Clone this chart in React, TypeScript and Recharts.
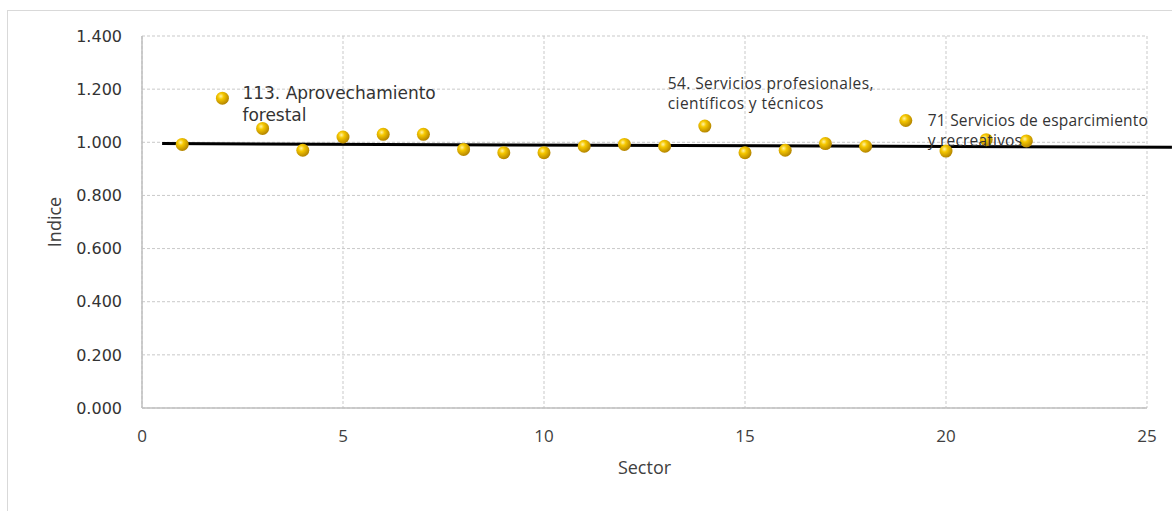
import React from 'react'
import {
  ScatterChart,
  Scatter,
  XAxis,
  YAxis,
  CartesianGrid,
  ReferenceLine,
  ReferenceDot,
  Label,
} from 'recharts'

// sector number vs index value
const sectors = [1, 2, 3, 4, 5, 6, 7, 8, 9, 10, 11, 12, 13, 14, 15, 16, 17, 18, 19, 20, 21, 22]
const indexValues = [
  0.992, 1.166, 1.052, 0.97, 1.02, 1.03, 1.03, 0.973, 0.961, 0.961, 0.985,
  0.992, 0.985, 1.061, 0.961, 0.97, 0.995, 0.985, 1.082, 0.967, 1.01, 1.005,
]

// linear trend line end points (Excel-style, projected past the axis)
const trendX = [0.5, 25.62]
const trendY = [0.995, 0.981]

const xTicks = [0, 5, 10, 15, 20, 25]
const yTicks = [0, 0.2, 0.4, 0.6, 0.8, 1.0, 1.2, 1.4]

// callouts: which sector they belong to, and their text lines
const calloutSector = [2, 14, 19]
const calloutLines = [
  ['113. Aprovechamiento', 'forestal'],
  ['54. Servicios profesionales,', 'científicos y técnicos'],
  ['71 Servicios de esparcimiento', 'y recreativos'],
]

const data = sectors.map((s, i) => ({ x: s, y: indexValues[i] }))

const calloutStyle = [
  { dx: 20, dy: 1, lh: 22, font: 'DejaVu Sans', size: 17, ls: 0 },
  { dx: -37, dy: -37, lh: 20, font: 'Open Sans', size: 15.5, ls: 0.4 },
  { dx: 22, dy: 6, lh: 20, font: 'Open Sans', size: 15.5, ls: 0.2 },
]

const GoldBall = (props: any) => {
  const { cx, cy } = props
  if (cx == null || cy == null) return null
  return <circle cx={cx} cy={cy} r={6.5} fill="url(#goldBall)" />
}

const makeCallout = (idx: number) => (props: any) => {
  const { cx, cy } = props
  const st = calloutStyle[idx]
  return (
    <g>
      {calloutLines[idx].map((line, j) => (
        <text
          key={j}
          x={cx + st.dx}
          y={cy + st.dy + j * st.lh}
          fontFamily={st.font}
          fontSize={st.size}
          letterSpacing={st.ls}
          fill="#333"
        >
          {line}
        </text>
      ))}
    </g>
  )
}

const IndiceLabel = (props: any) => {
  const { viewBox } = props
  const x = viewBox.x + 54
  const y = viewBox.y + viewBox.height / 2
  return (
    <text
      x={x}
      y={y}
      transform={`rotate(-90, ${x}, ${y})`}
      textAnchor="middle"
      dominantBaseline="central"
      fontFamily="Open Sans"
      fontSize={18}
      fill="#404040"
    >
      Indice
    </text>
  )
}

export default function App() {
  return (
    <div
      style={{
        position: 'absolute',
        left: 0,
        top: 0,
        width: 1172,
        height: 511,
        overflow: 'hidden',
        background: '#fff',
      }}
    >
      {/* outer chart frame, runs off the right / bottom edge */}
      <div
        style={{
          position: 'absolute',
          left: 7,
          top: 10,
          width: 1300,
          height: 700,
          border: '1px solid #d9d9d9',
        }}
      />
      <div style={{ position: 'absolute', left: 0, top: 0 }}>
        <ScatterChart
          width={1172}
          height={511}
          margin={{ top: 36, right: 25, left: 0, bottom: 0 }}
        >
          <defs>
            <radialGradient id="goldBall" cx="38%" cy="35%" r="65%">
              <stop offset="0%" stopColor="#fff3a6" />
              <stop offset="35%" stopColor="#f6c800" />
              <stop offset="100%" stopColor="#b58600" />
            </radialGradient>
          </defs>
          <CartesianGrid stroke="#c9c9c9" strokeDasharray="3 2" />
          <XAxis
            type="number"
            dataKey="x"
            domain={[0, 25]}
            ticks={xTicks}
            height={103}
            axisLine={{ stroke: '#bfbfbf', strokeWidth: 1.5 }}
            tickLine={false}
            tickSize={6}
            tickMargin={16}
            tick={{ fontFamily: 'Open Sans', fontSize: 17, fill: '#404040' }}
          >
            <Label
              value="Sector"
              position="insideBottom"
              offset={37}
              style={{ fontFamily: 'Open Sans', fontSize: 18, fill: '#404040' }}
            />
          </XAxis>
          <YAxis
            type="number"
            dataKey="y"
            domain={[0, 1.4]}
            ticks={yTicks}
            width={142}
            axisLine={{ stroke: '#bfbfbf', strokeWidth: 1.5 }}
            tickLine={false}
            tickSize={6}
            tickMargin={14}
            tickFormatter={(v: number) => v.toFixed(3)}
            tick={{ fontFamily: 'DejaVu Sans', fontSize: 16, fill: '#333' }}
          >
            <Label content={IndiceLabel} />
          </YAxis>
          <Scatter data={data} shape={GoldBall} isAnimationActive={false} />
          <ReferenceLine
            segment={[
              { x: trendX[0], y: trendY[0] },
              { x: trendX[1], y: trendY[1] },
            ]}
            stroke="#000"
            strokeWidth={3}
            ifOverflow="visible"
          />
          {calloutSector.map((s, i) => (
            <ReferenceDot
              key={s}
              x={s}
              y={indexValues[sectors.indexOf(s)]}
              r={0}
              ifOverflow="visible"
              shape={makeCallout(i)}
            />
          ))}
        </ScatterChart>
      </div>
    </div>
  )
}
